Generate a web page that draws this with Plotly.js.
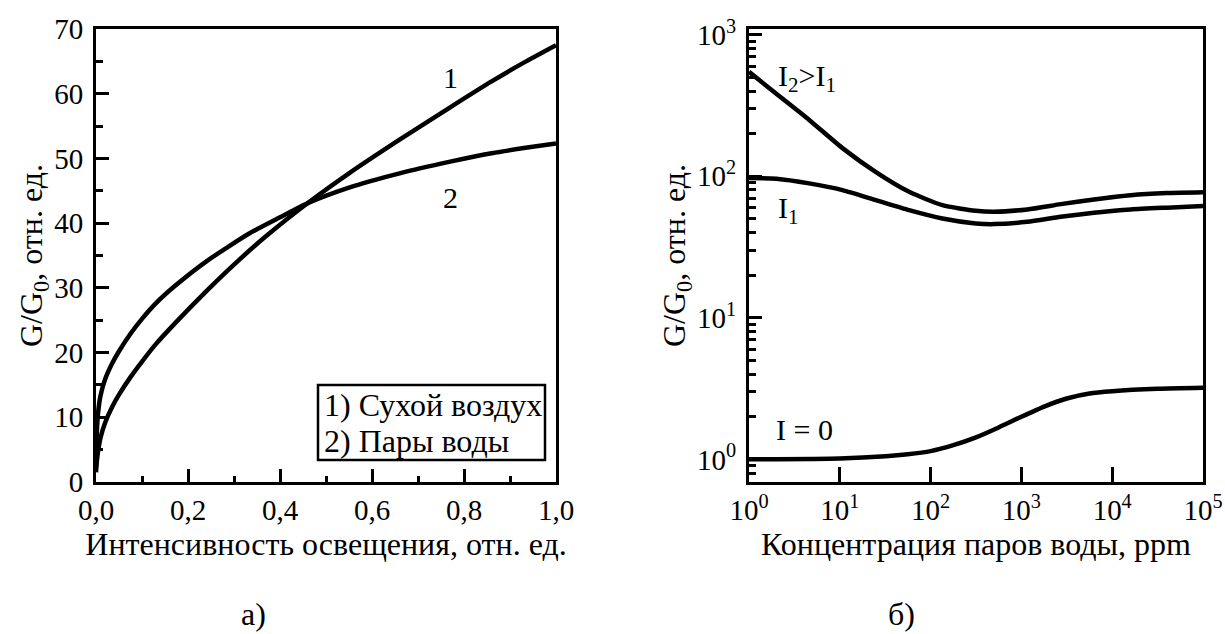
<!DOCTYPE html>
<html>
<head>
<meta charset="utf-8">
<script src="https://cdn.plot.ly/plotly-3.0.1.min.js"></script>
<style>html,body{margin:0;padding:0;background:#fff;}</style>
</head>
<body>
<div id="chart" style="width:1225px;height:634px;"></div>
<script>
// ---- Panel a): G/G0 vs illumination intensity ----
const intensityDry = [0, 0.002, 0.005, 0.01, 0.02, 0.035, 0.05, 0.075, 0.1, 0.13, 0.17, 0.24, 0.3, 0.37, 0.464, 0.55, 0.66, 0.77, 0.86, 0.93, 1.0];
const ratioDry     = [1.5, 3.3, 5.0, 6.9, 9.2, 11.6, 13.5, 16.2, 18.6, 21.3, 24.4, 29.5, 33.6, 38.0, 43.3, 47.7, 52.9, 57.9, 61.9, 64.8, 67.5];
const intensityWet = [0, 0.002, 0.005, 0.01, 0.02, 0.035, 0.05, 0.075, 0.1, 0.13, 0.17, 0.24, 0.333, 0.4, 0.464, 0.55, 0.66, 0.77, 0.86, 0.93, 1.0];
const ratioWet     = [2.4, 8.0, 11.0, 13.4, 15.9, 18.3, 20.2, 22.9, 25.2, 27.6, 30.2, 34.1, 38.4, 40.9, 43.2, 45.5, 47.7, 49.5, 50.8, 51.6, 52.3];

const xTickValsA = [0, 0.2, 0.4, 0.6, 0.8, 1.0];
const xTickTextA = ['0,0', '0,2', '0,4', '0,6', '0,8', '1,0'];
const xMinorA    = [0.1, 0.3, 0.5, 0.7, 0.9];
const yTickValsA = [0, 10, 20, 30, 40, 50, 60, 70];
const yMinorA    = [5, 15, 25, 35, 45, 55, 65];
const legendLines = ['1) Сухой воздух', '2) Пары воды'];

// ---- Panel б): G/G0 vs water vapour concentration ----
const concHigh  = [1, 2, 4.6, 10.7, 25, 58, 135, 314, 500, 1160, 2710, 6300, 16000, 40000, 100000];
const ratioI2   = [546, 382, 250, 158, 107, 77.6, 62.5, 57, 56.1, 58.3, 63.5, 68.6, 73.5, 76, 77];
const ratioI1   = [97, 96, 89, 79.8, 67.8, 57.6, 50.3, 46.4, 45.9, 47.6, 51.7, 55.2, 58.3, 60, 61.5];
const concDark  = [1, 10, 32, 56, 100, 178, 316, 562, 1000, 1780, 3160, 5620, 10000, 31600, 100000];
const ratioDark = [1.0, 1.014, 1.052, 1.086, 1.143, 1.259, 1.429, 1.679, 2.0, 2.36, 2.69, 2.92, 3.03, 3.15, 3.2];

const xTickValsB = [1, 10, 100, 1000, 10000, 100000];
const xTickTextB = ['10<sup>0</sup>', '10<sup>1</sup>', '10<sup>2</sup>', '10<sup>3</sup>', '10<sup>4</sup>', '10<sup>5</sup>'];
const yTickValsB = [1, 10, 100, 1000];
const yTickTextB = ['10<sup>0</sup>', '10<sup>1</sup>', '10<sup>2</sup>', '10<sup>3</sup>'];
const yMinorB    = [0.8, 0.9, 2, 3, 4, 5, 6, 7, 8, 9, 20, 30, 40, 50, 60, 70, 80, 90, 200, 300, 400, 500, 600, 700, 800, 900];

const FONT = "'Liberation Serif', 'Times New Roman', serif";
const lineStyle = {color: '#000', width: 4.5, shape: 'spline', smoothing: 0.6};

const traces = [
  {x: intensityDry, y: ratioDry, mode: 'lines', line: lineStyle, xaxis: 'x', yaxis: 'y', name: legendLines[0]},
  {x: intensityWet, y: ratioWet, mode: 'lines', line: lineStyle, xaxis: 'x', yaxis: 'y', name: legendLines[1]},
  {x: concHigh, y: ratioI2, mode: 'lines', line: lineStyle, xaxis: 'x2', yaxis: 'y2', name: 'I2>I1'},
  {x: concHigh, y: ratioI1, mode: 'lines', line: lineStyle, xaxis: 'x2', yaxis: 'y2', name: 'I1'},
  {x: concDark, y: ratioDark, mode: 'lines', line: lineStyle, xaxis: 'x2', yaxis: 'y2', name: 'I = 0'}
];

const axisCommon = {
  showline: true, linecolor: '#000', linewidth: 3, mirror: true,
  ticks: 'inside', ticklen: 13, tickwidth: 2.5, tickcolor: '#000',
  showgrid: false, zeroline: false,
  tickfont: {family: FONT, size: 29, color: '#000'}
};
const titleFont = {family: FONT, size: 32, color: '#000'};
const txt = (size) => ({family: FONT, size: size, color: '#000'});
const px = (v) => v / 1225;
const py = (v) => 1 - v / 634;

const layout = {
  width: 1225, height: 634,
  margin: {l: 0, r: 0, t: 0, b: 0},
  paper_bgcolor: '#fff', plot_bgcolor: '#fff',
  showlegend: false,
  font: {family: FONT, color: '#000'},
  xaxis: Object.assign({}, axisCommon, {
    domain: [px(96), px(556)], range: [0, 1], anchor: 'y',
    tickmode: 'array', tickvals: xTickValsA, ticktext: xTickTextA,
    ticklabelstandoff: 0,
    minor: {tickmode: 'array', tickvals: xMinorA, ticks: 'inside', ticklen: 6, tickwidth: 2.5, tickcolor: '#000'},
    title: {text: 'Интенсивность освещения, отн. ед.', font: titleFont, standoff: 6}
  }),
  yaxis: Object.assign({}, axisCommon, {
    domain: [py(482), py(29)], range: [0, 70], anchor: 'x',
    tickmode: 'array', tickvals: yTickValsA,
    ticklabelstandoff: 4,
    minor: {tickmode: 'array', tickvals: yMinorA, ticks: 'inside', ticklen: 7, tickwidth: 2.5, tickcolor: '#000'},
    title: {text: 'G/G<sub>0</sub>, отн. ед.', font: titleFont, standoff: 0}
  }),
  xaxis2: Object.assign({}, axisCommon, {
    domain: [px(749), px(1203)], type: 'log', range: [0, 5], anchor: 'y2',
    tickmode: 'array', tickvals: xTickValsB, ticktext: xTickTextB,
    ticklen: 15,
    ticklabelstandoff: 0,
    title: {text: 'Концентрация паров воды, ppm', font: titleFont, standoff: 6}
  }),
  yaxis2: Object.assign({}, axisCommon, {
    domain: [py(482), py(29)], type: 'log', range: [-0.16, 3.04], anchor: 'x2',
    tickmode: 'array', tickvals: yTickValsB, ticktext: yTickTextB,
    ticklabelstandoff: 4,
    minor: {tickmode: 'array', tickvals: yMinorB, ticks: 'inside', ticklen: 7, tickwidth: 2.5, tickcolor: '#000'},
    title: {text: 'G/G<sub>0</sub>, отн. ед.', font: titleFont, standoff: 0}
  }),
  shapes: [
    {type: 'rect', xref: 'paper', yref: 'paper', x0: px(318), x1: px(545), y0: py(460), y1: py(385),
     line: {color: '#000', width: 2.5}, fillcolor: 'rgba(255,255,255,0)'}
  ],
  annotations: [
    {xref: 'x', yref: 'y', x: 0.77, y: 62.5, text: '1', showarrow: false, font: txt(30)},
    {xref: 'x', yref: 'y', x: 0.77, y: 44, text: '2', showarrow: false, font: txt(30)},
    {xref: 'paper', yref: 'paper', x: px(322), y: py(405), xanchor: 'left', yanchor: 'middle',
     text: legendLines[0], showarrow: false, font: txt(32)},
    {xref: 'paper', yref: 'paper', x: px(322), y: py(441), xanchor: 'left', yanchor: 'middle',
     text: legendLines[1], showarrow: false, font: txt(32)},
    {xref: 'paper', yref: 'paper', x: px(776), y: py(78), xanchor: 'left', yanchor: 'middle',
     text: 'I<sub>2</sub>>I<sub>1</sub>', showarrow: false, font: txt(30)},
    {xref: 'paper', yref: 'paper', x: px(776), y: py(210), xanchor: 'left', yanchor: 'middle',
     text: 'I<sub>1</sub>', showarrow: false, font: txt(30)},
    {xref: 'paper', yref: 'paper', x: px(774), y: py(429), xanchor: 'left', yanchor: 'middle',
     text: 'I = 0', showarrow: false, font: txt(30)},
    {xref: 'paper', yref: 'paper', x: px(254), y: py(614), xanchor: 'center', yanchor: 'middle',
     text: 'а)', showarrow: false, font: txt(32)},
    {xref: 'paper', yref: 'paper', x: px(902), y: py(614), xanchor: 'center', yanchor: 'middle',
     text: 'б)', showarrow: false, font: txt(32)}
  ]
};

Plotly.newPlot('chart', traces, layout, {displayModeBar: false});
</script>
</body>
</html>
